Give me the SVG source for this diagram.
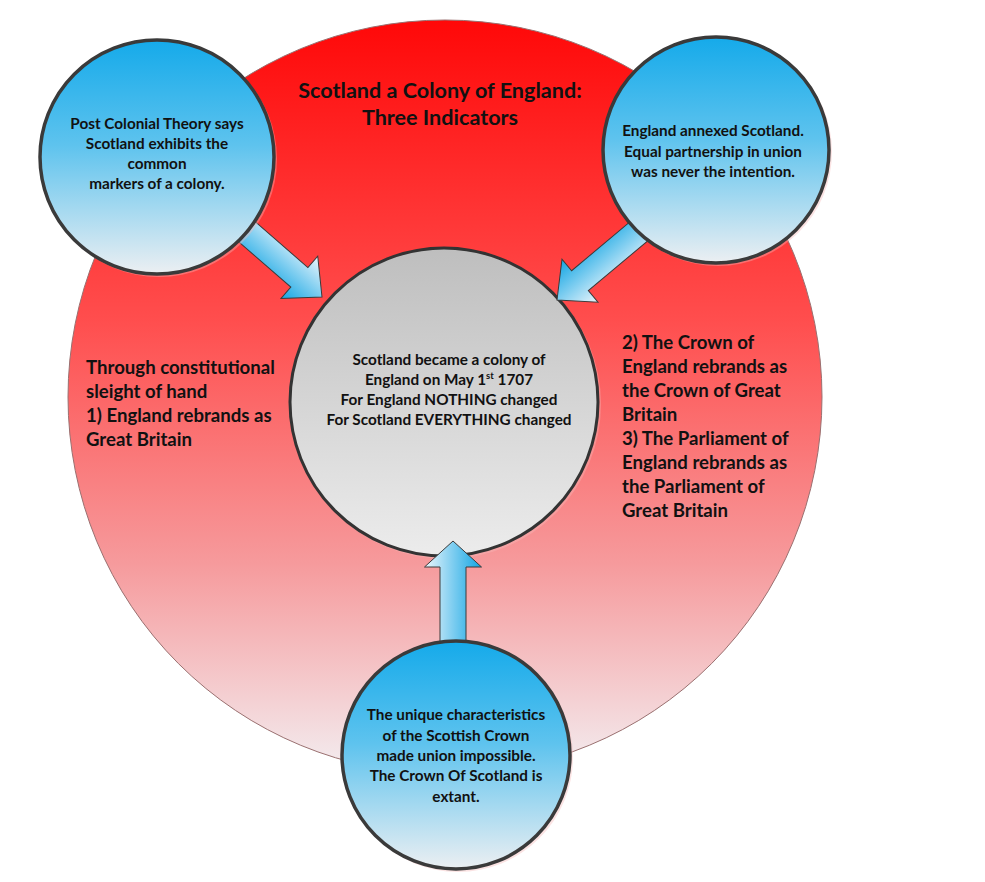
<svg xmlns="http://www.w3.org/2000/svg" width="985" height="882" viewBox="0 0 985 882">
<defs>
<linearGradient id="gRed" x1="0" y1="0" x2="0" y2="1">
<stop offset="0" stop-color="#FF0808"/>
<stop offset="0.4" stop-color="#FF4E4E"/>
<stop offset="0.72" stop-color="#F69A9C"/>
<stop offset="1" stop-color="#F3EEF1"/>
</linearGradient>
<linearGradient id="gBlue" x1="0" y1="0" x2="0" y2="1">
<stop offset="0" stop-color="#15AAEA"/>
<stop offset="0.45" stop-color="#5EC3EE"/>
<stop offset="1" stop-color="#ECEFF2"/>
</linearGradient>
<linearGradient id="gGray" x1="0" y1="0" x2="0" y2="1">
<stop offset="0" stop-color="#BEBEBE"/>
<stop offset="1" stop-color="#ECECEC"/>
</linearGradient>
<linearGradient id="gArrow" gradientUnits="userSpaceOnUse" x1="0" y1="-28" x2="0" y2="28">
<stop offset="0" stop-color="#EAF5FB"/>
<stop offset="0.5" stop-color="#7DCDF0"/>
<stop offset="1" stop-color="#14A6E3"/>
</linearGradient>
<style>
.txt{font-family:Lato,"Open Sans","Liberation Sans",sans-serif;font-weight:bold;fill:#111;text-anchor:middle}
.side{font-family:Lato,"Open Sans","Liberation Sans",sans-serif;font-weight:bold;fill:#111;font-size:18.6px}
.small{font-size:15.3px}
.blue{fill:url(#gBlue);stroke:#3A3A3A;stroke-width:3.5}
.shadow{fill:#F6B8B8;opacity:0.4}
.arrow{fill:url(#gArrow);stroke:#3A3A3A;stroke-width:1}
</style>
</defs>
<g id="background">
<circle cx="445" cy="397" r="377" fill="url(#gRed)" stroke="#9a7070" stroke-width="1"/>
</g>
<g id="title">
<text class="txt" x="440" y="98" font-size="21.6">Scotland a Colony of England:</text>
<text class="txt" x="440" y="125" font-size="21.6">Three Indicators</text>
</g>
<g id="center">
<circle class="shadow" cx="446" cy="404" r="155"/>
<circle cx="444" cy="402" r="154" fill="url(#gGray)" stroke="#333" stroke-width="3"/>
<text class="txt small" x="449" y="365">Scotland became a colony of</text>
<text class="txt small" x="449" y="385">England on May 1<tspan font-size="9.5" dy="-6">st</tspan><tspan dy="6"> 1707</tspan></text>
<text class="txt small" x="449" y="405">For England NOTHING changed</text>
<text class="txt small" x="449" y="425">For Scotland EVERYTHING changed</text>
</g>
<g id="connectors">
<polygon class="arrow" transform="translate(322,297) rotate(41)" points="0,0 -30,-28 -30,-13 -125,-13 -125,13 -30,13 -30,28"/>
<polygon class="arrow" transform="translate(557,300) rotate(140)" points="0,0 -30,-28 -30,-13 -120,-13 -120,13 -30,13 -30,28"/>
<polygon class="arrow" transform="translate(453,541) rotate(-90)" points="0,0 -26,-28.5 -26,-13 -115,-13 -115,13 -26,13 -26,28.5"/>
</g>
<g id="left-node">
<circle class="shadow" cx="159" cy="159" r="118"/>
<circle class="blue" cx="157" cy="157" r="117"/>
<text class="txt small" x="157" y="129">Post Colonial Theory says</text>
<text class="txt small" x="157" y="149">Scotland exhibits the</text>
<text class="txt small" x="157" y="169">common</text>
<text class="txt small" x="157" y="189">markers of a colony.</text>
</g>
<g id="right-node">
<circle class="shadow" cx="718" cy="152" r="114"/>
<circle class="blue" cx="716" cy="150" r="113"/>
<text class="txt small" x="713" y="136">England annexed Scotland.</text>
<text class="txt small" x="713" y="157">Equal partnership in union</text>
<text class="txt small" x="713" y="177">was never the intention.</text>
</g>
<g id="bottom-node">
<circle class="shadow" cx="458" cy="757" r="115"/>
<circle class="blue" cx="456" cy="755" r="114"/>
<text class="txt small" x="456" y="720">The unique characteristics</text>
<text class="txt small" x="456" y="741">of the Scottish Crown</text>
<text class="txt small" x="456" y="761">made union impossible.</text>
<text class="txt small" x="456" y="781">The Crown Of Scotland is</text>
<text class="txt small" x="456" y="802">extant.</text>
</g>
<g id="left-text">
<text class="side" x="86" y="374">Through constitutional</text>
<text class="side" x="86" y="398">sleight of hand</text>
<text class="side" x="86" y="422">1) England rebrands as</text>
<text class="side" x="86" y="446">Great Britain</text>
</g>
<g id="right-text">
<text class="side" x="622" y="349">2) The Crown of</text>
<text class="side" x="622" y="373">England rebrands as</text>
<text class="side" x="622" y="397">the Crown of Great</text>
<text class="side" x="622" y="421">Britain</text>
<text class="side" x="622" y="445">3) The Parliament of</text>
<text class="side" x="622" y="469">England rebrands as</text>
<text class="side" x="622" y="493">the Parliament of</text>
<text class="side" x="622" y="517">Great Britain</text>
</g>
</svg>
